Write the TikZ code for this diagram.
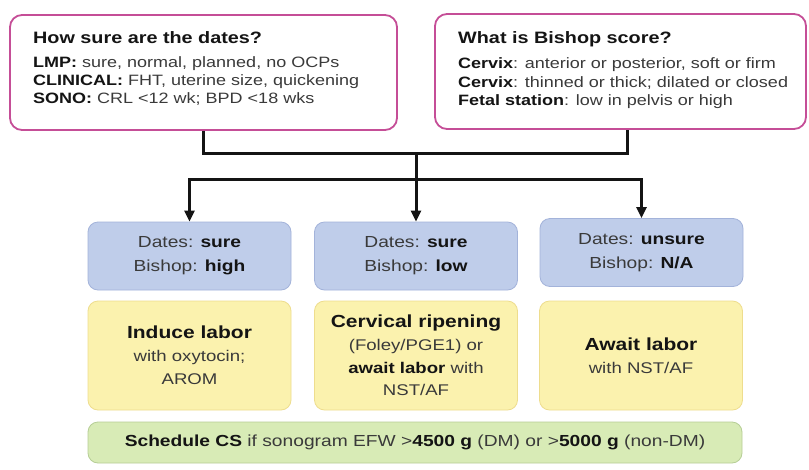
\documentclass[tikz,border=0pt]{standalone}
\usepackage{fontspec}
\setmainfont{Liberation Sans}[FakeStretch=1.2]
\usetikzlibrary{arrows.meta}
\definecolor{pinkb}{HTML}{C54E97}
\definecolor{bluef}{HTML}{BFCDEA}
\definecolor{blueb}{HTML}{A3B3DA}
\definecolor{yellf}{HTML}{FBF2AE}
\definecolor{yellb}{HTML}{EEDD8E}
\definecolor{greenf}{HTML}{D8EBB6}
\definecolor{greenb}{HTML}{B6CE96}
\definecolor{txt}{HTML}{3A3A3A}
\definecolor{dark}{HTML}{141414}
\newcommand{\bb}[1]{{\bfseries\color{dark}#1}}
\tikzset{
  qbox/.style={draw=pinkb, line width=1.8pt, rounded corners=12pt, fill=white, inner sep=0pt},
  qtitle/.style={anchor=base west, inner sep=0pt, text=dark, font=\fontsize{16.5}{20}\selectfont\bfseries},
  qline/.style={anchor=base west, inner sep=0pt, text=txt, font=\fontsize{15}{18}\selectfont},
  bluebox/.style={draw=blueb, line width=0.8pt, fill=bluef, rounded corners=10pt, minimum width=203pt, minimum height=68pt, align=center, text=txt, font=\fontsize{16}{24}\selectfont, inner sep=0pt},
  yellbox/.style={draw=yellb, line width=0.8pt, fill=yellf, rounded corners=10pt, minimum width=203pt, minimum height=109pt, align=center, text=txt, font=\fontsize{15.5}{22.8}\selectfont, inner sep=0pt},
  greenbox/.style={draw=greenb, line width=0.8pt, fill=greenf, rounded corners=10pt, minimum width=654pt, minimum height=41pt, align=center, text=txt, font=\fontsize{16}{20}\selectfont, inner sep=0pt},
  conn/.style={draw=dark, line width=3pt},
  arr/.style={conn, -{Triangle[length=11pt,width=10pt]}}
}
\begin{document}
\begin{tikzpicture}[x=1pt,y=-1pt]
\useasboundingbox[fill=white] (0,0) rectangle (809,469);
% top boxes
\node[qbox, minimum width=387pt, minimum height=115pt] (dq) at (203.5,72.5) {};
\node[qbox, minimum width=371pt, minimum height=115pt] (bs) at (620.5,71.5) {};
\node[qtitle] (dqt) at (33,43) {How sure are the dates?};
\node[qline] (dq1) at (33,67.5) {\bb{LMP:} sure, normal, planned, no OCPs};
\node[qline] (dq2) at (33,85.5) {\bb{CLINICAL:} FHT, uterine size, quickening};
\node[qline] (dq3) at (33,103.5) {\bb{SONO:} CRL <12 wk; BPD <18 wks};
\node[qtitle] (bst) at (458,43) {What is Bishop score?};
\node[qline] (bs1) at (458,68.5) {\bb{Cervix}: anterior or posterior, soft or firm};
\node[qline] (bs2) at (458,87) {\bb{Cervix}: thinned or thick; dilated or closed};
\node[qline] (bs3) at (458,105.5) {\bb{Fetal station}: low in pelvis or high};
% blue boxes
\node[bluebox] (b1) at (189.5,256) {Dates: \bb{sure}\\Bishop: \bb{high}};
\node[bluebox] (b2) at (416,256) {Dates: \bb{sure}\\Bishop: \bb{low}};
\node[bluebox] (b3) at (641.5,252.5) {Dates: \bb{unsure}\\Bishop: \bb{N/A}};
% yellow boxes
\node[yellbox] (y1) at (189.5,355.5) {{\fontsize{17.5}{22.8}\selectfont\bb{Induce labor}}\\with oxytocin;\\AROM};
\node[yellbox] (y2) at (416,355.5) {{\fontsize{17.5}{22.8}\selectfont\bb{Cervical ripening}}\\(Foley/PGE1) or\\\bb{await labor} with\\NST/AF};
\node[yellbox] (y3) at (641,355.5) {{\fontsize{17.5}{22.8}\selectfont\bb{Await labor}}\\with NST/AF};
% green box
\node[greenbox] (g) at (415,442.5) {\bb{Schedule CS} if sonogram EFW >\bb{4500 g} (DM) or >\bb{5000 g} (non-DM)};
% connectors
\coordinate (j1) at (416,153);
\coordinate (j2) at (416,179);
\draw[conn] (dq.south) -- (dq.south |- j1) -| ([xshift=7pt]bs.south);
\draw[arr] (j1) -- (b2.north);
\draw[arr] (j2) -| (b1.north);
\draw[arr] (j2) -| (b3.north);
\end{tikzpicture}
\end{document}
